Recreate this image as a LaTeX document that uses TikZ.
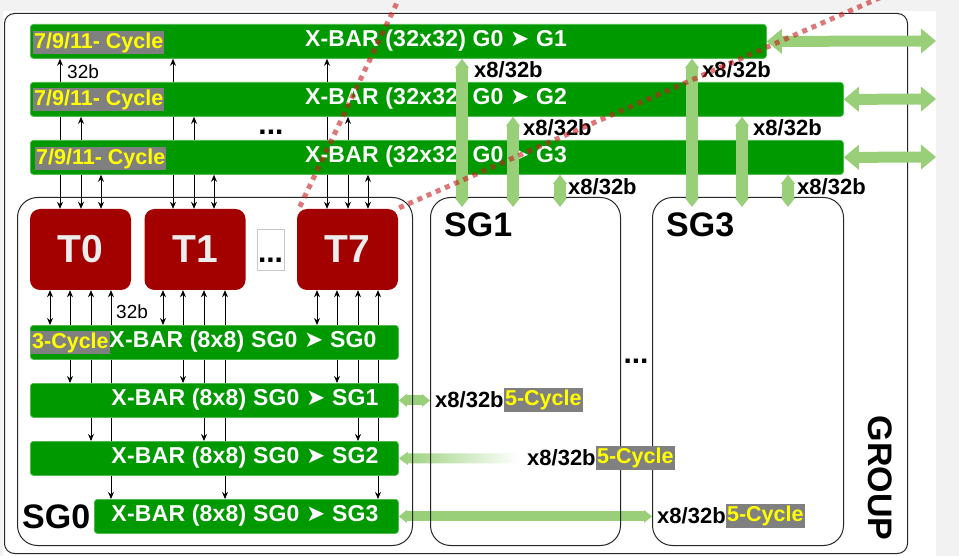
\documentclass[tikz,border=0pt]{standalone}
\usepackage{fontspec}
\setmainfont{Liberation Sans}
\newfontfamily\dvfont{DejaVu Sans}
\usetikzlibrary{arrows.meta,calc}
\definecolor{bargreen}{RGB}{0,153,0}
\definecolor{barline}{RGB}{80,185,80}
\definecolor{lgreen}{RGB}{152,207,120}
\definecolor{tred}{RGB}{163,0,0}
\definecolor{cycgray}{RGB}{128,128,128}
\definecolor{cycyellow}{RGB}{255,255,0}
\definecolor{bgray}{RGB}{242,242,242}
\definecolor{dotred}{RGB}{200,30,30}
\newcommand{\tipglyph}{{\dvfont\mdseries ➤}}
\pgfdeclarelayer{bottom}
\pgfdeclarelayer{back}
\pgfdeclarelayer{front}
\pgfsetlayers{bottom,back,main,front}
\begin{document}
\begin{tikzpicture}[x=1pt,y=-1pt,
  >={Stealth[length=7pt,width=6pt]},
  bar/.style={fill=bargreen, draw=barline, line width=0.8pt, rounded corners=3pt, inner sep=0pt, anchor=north west, minimum height=34pt},
  bartext/.style={text=white, font=\fontsize{23}{25}\selectfont\bfseries\addfontfeatures{LetterSpace=1}, inner sep=0pt},
  cyc/.style={fill=cycgray, text=cycyellow, font=\fontsize{21.5}{23}\selectfont\bfseries, inner xsep=1pt, inner ysep=0pt, minimum height=23pt},
  tbox/.style={fill=tred, rounded corners=10pt, minimum width=101pt, minimum height=81pt, inner sep=0pt, text=white!93!black, font=\fontsize{39}{40}\selectfont\bfseries},
  sgbox/.style={draw=black!85, line width=1pt, rounded corners=20pt, anchor=north west, inner sep=0pt, minimum height=348pt},
  sglbl/.style={font=\fontsize{34}{36}\selectfont\bfseries, inner sep=0pt},
  lbl/.style={font=\fontsize{22}{24}\selectfont\bfseries, inner sep=0pt},
  smalllbl/.style={font=\fontsize{19}{21}\selectfont, inner sep=0pt},
  dotsl/.style={font=\fontsize{30}{32}\selectfont\bfseries, inner sep=0pt},
  blk/.style={<->, line width=0.9pt, black},
  fatR/.style={draw=lgreen, line width=11pt, {Triangle[length=15pt,width=25pt,line width=0pt]}-{Triangle[length=15pt,width=25pt,line width=0pt]}},
  fatV/.style={draw=lgreen, line width=12pt, {Triangle[length=9pt,width=14pt,line width=0pt]}-{Triangle[length=9pt,width=14pt,line width=0pt]}},
  fatS/.style={draw=lgreen, line width=10pt, {Triangle[length=8pt,width=13pt,line width=0pt]}-{Triangle[length=8pt,width=13pt,line width=0pt]}},
  zoomline/.style={draw=dotred, opacity=0.6, line width=5pt, dash pattern=on 5pt off 5pt}
]
\useasboundingbox (0,0) rectangle (959,556);
\begin{pgfonlayer}{bottom}
\fill[bgray] (0,0) rectangle (959,556);
\fill[white] (3,11) rectangle (936,556);
\end{pgfonlayer}

% boxes
\node[sgbox, rounded corners=10pt, minimum width=903pt, minimum height=540pt] (GRP) at (4,13) {};
\node[sgbox, minimum width=395pt] (SG0) at (17,197) {};
\node[sgbox, minimum width=190pt] (SG1) at (430,197) {};
\node[sgbox, minimum width=191pt] (SG3) at (652,197) {};

% top crossbars
\node[bar, minimum width=736pt] (gb1) at (30,24) {};
\node[bar, minimum width=813pt] (gb2) at (30,82) {};
\node[bar, minimum width=813pt] (gb3) at (30,140) {};
\node[cyc, anchor=west] (gc1) at (33,42.5) {7/9/11- Cycle};
\node[cyc, anchor=west] (gc2) at (33,99.5) {7/9/11- Cycle};
\node[cyc, anchor=west] (gc3) at (35,159) {7/9/11- Cycle};
\node[bartext] (gt1) at (436,41) {X-BAR (32x32) G0 \tipglyph{} G1};
\node[bartext] (gt2) at (436,99) {X-BAR (32x32) G0 \tipglyph{} G2};
\node[bartext] (gt3) at (436,157) {X-BAR (32x32) G0 \tipglyph{} G3};

% cores
\node[tbox] (T0) at (80.5,249.5) {T0};
\node[tbox] (T1) at (195,249.5) {T1};
\node[tbox] (T7) at (347.5,249.5) {T7};
\node[draw=black!22, minimum width=27pt, minimum height=41pt, inner sep=0pt] (tdbox) at (270.5,249.5) {};
\node[dotsl, anchor=base] (tdots) at (270.5,262) {...};

% SG0 crossbars
\node[bar, minimum width=368pt] (sb0) at (30,325) {};
\node[bar, minimum width=368pt] (sb1) at (30,383) {};
\node[bar, minimum width=368pt] (sb2) at (30,441) {};
\node[bar, minimum width=304pt] (sb3) at (94,499) {};
\node[cyc, anchor=west] (sc0) at (31,342.5) {3-Cycle};
\node[bartext] (st0) at (243,342) {X-BAR (8x8) SG0 \tipglyph{} SG0};
\node[bartext] (st1) at (245,400) {X-BAR (8x8) SG0 \tipglyph{} SG1};
\node[bartext] (st2) at (245,458) {X-BAR (8x8) SG0 \tipglyph{} SG2};
\node[bartext] (st3) at (245,516) {X-BAR (8x8) SG0 \tipglyph{} SG3};

% labels
\node[sglbl, anchor=west] (lsg0) at (22,517) {SG0};
\node[sglbl, anchor=west] (lsg1) at (444,225) {SG1};
\node[sglbl, anchor=west] (lsg3) at (666,225) {SG3};
\node[sglbl, rotate=-90] (lgrp) at (880,478) {GROUP};
\node[smalllbl, anchor=west] (b32a) at (67,72) {32b};
\node[smalllbl, anchor=west] (b32b) at (116,312) {32b};
\node[dotsl, anchor=base] (dtop) at (271,135) {...};
\node[dotsl, anchor=base] (dmid) at (636,363) {...};

\node[lbl, anchor=west] (xa1) at (474,70) {x8/32b};
\node[lbl, anchor=west] (xa2) at (523,128) {x8/32b};
\node[lbl, anchor=west] (xa3) at (568,187) {x8/32b};
\node[lbl, anchor=west] (xb1) at (702,70) {x8/32b};
\node[lbl, anchor=west] (xb2) at (753,128) {x8/32b};
\node[lbl, anchor=west] (xb3) at (797,187) {x8/32b};
\node[lbl, anchor=west] (xc1) at (435,400) {x8/32b};
\node[cyc, anchor=west, minimum height=24pt] (yc1) at (xc1.east) {5-Cycle};
\node[lbl, anchor=west] (xc2) at (527,458) {x8/32b};
\node[cyc, anchor=west, minimum height=24pt] (yc2) at (xc2.east) {5-Cycle};
\node[lbl, anchor=west] (xc3) at (657,516) {x8/32b};
\node[cyc, anchor=west, minimum height=24pt] (yc3) at (xc3.east) {5-Cycle};

% column coordinates
\foreach \n/\x in {a1/60,a2/81,a3/101,a4/173,a5/194,a6/214,a7/327,a8/348,a9/368,
                   b1/50,b2/70,b3/91,b4/111,b5/163,b6/183,b7/204,b8/225,b9/317,b10/337,b11/358,b12/378,
                   v1/462,v2/513,v3/560,v4/692,v5/742,v6/788}
  \coordinate (\n) at (\x,0);
\coordinate (r1) at (936,41);
\coordinate (r2) at (936,99);
\coordinate (r3) at (936,157);

\begin{pgfonlayer}{back}
% black links bars <-> cores
\draw[blk] (gb1.south -| a1) -- (T0.north -| a1);
\draw[blk] (gb2.south -| a2) -- (T0.north -| a2);
\draw[blk] (gb3.south -| a3) -- (T0.north -| a3);
\draw[blk] (gb1.south -| a4) -- (T1.north -| a4);
\draw[blk] (gb2.south -| a5) -- (T1.north -| a5);
\draw[blk] (gb3.south -| a6) -- (T1.north -| a6);
\draw[blk] (gb1.south -| a7) -- (T7.north -| a7);
\draw[blk] (gb2.south -| a8) -- (T7.north -| a8);
\draw[blk] (gb3.south -| a9) -- (T7.north -| a9);
\draw[blk] (T0.south -| b1) -- (sb0.north -| b1);
\draw[blk] (T0.south -| b2) -- (sb1.north -| b2);
\draw[blk] (T0.south -| b3) -- (sb2.north -| b3);
\draw[blk] (T0.south -| b4) -- (sb3.north -| b4);
\draw[blk] (T1.south -| b5) -- (sb0.north -| b5);
\draw[blk] (T1.south -| b6) -- (sb1.north -| b6);
\draw[blk] (T1.south -| b7) -- (sb2.north -| b7);
\draw[blk] (T1.south -| b8) -- (sb3.north -| b8);
\draw[blk] (T7.south -| b9) -- (sb0.north -| b9);
\draw[blk] (T7.south -| b10) -- (sb1.north -| b10);
\draw[blk] (T7.south -| b11) -- (sb2.north -| b11);
\draw[blk] (T7.south -| b12) -- (sb3.north -| b12);
% links SG0 -> other subgroups
\draw[fatS] (sb1.east) -- (SG1.west |- sb1.east);
\draw[fatS] (sb3.east) -- (SG3.west |- sb3.east);
\shade[left color=lgreen, right color=white] (sb2.east) -- ++(9,-6.5) -- ++(0,1.5) -- ++(111,0) -- ++(0,10) -- ++(-111,0) -- ++(0,1.5) -- cycle;
\end{pgfonlayer}

\begin{pgfonlayer}{front}
\draw[fatV] (gb1.south -| v1) -- ($(SG1.north -| v1)+(0,10)$);
\draw[fatV] (gb2.south -| v2) -- ($(SG1.north -| v2)+(0,10)$);
\draw[fatV] (gb3.south -| v3) -- ($(SG1.north -| v3)+(0,10)$);
\draw[fatV] (gb1.south -| v4) -- ($(SG3.north -| v4)+(0,10)$);
\draw[fatV] (gb2.south -| v5) -- ($(SG3.north -| v5)+(0,10)$);
\draw[fatV] (gb3.south -| v6) -- ($(SG3.north -| v6)+(0,10)$);
\draw[fatR] (gb1.east) -- (r1);
\draw[fatR] (gb2.east) -- (r2);
\draw[fatR] (gb3.east) -- (r3);
\begin{scope}
\clip (0,0) rectangle (959,556);
\coordinate (zA) at (404,-12);
\coordinate (zB) at (884,-4);
\draw[zoomline] ($(T7.north west)+(3,-2)$) -- (zA);
\draw[zoomline] ($(T7.north east)+(1,-1)$) -- (zB);
\end{scope}
\end{pgfonlayer}
\end{tikzpicture}
\end{document}
